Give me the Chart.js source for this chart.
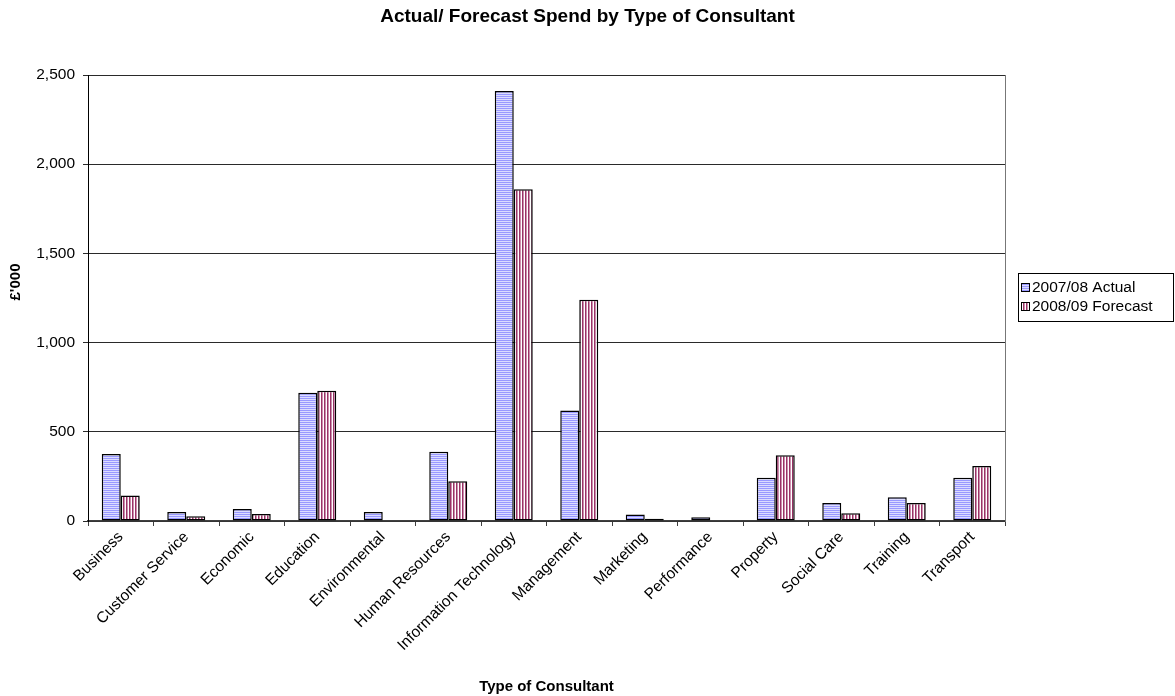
<!DOCTYPE html>
<html><head><meta charset="utf-8">
<script src="https://cdn.jsdelivr.net/npm/chart.js@4/dist/chart.umd.min.js"></script>
<style>html,body{margin:0;padding:0;background:#fff}#wrap{width:1175px;height:696px}</style>
</head><body><div id="wrap"><canvas id="c" width="1175" height="696"></canvas></div>
<script>
const categories = ['Business','Customer Service','Economic','Education','Environmental','Human Resources','Information Technology','Management','Marketing','Performance','Property','Social Care','Training','Transport'];
const actual2007 = [375, 51, 67, 719, 51, 388, 2411, 620, 36, 21, 242, 101, 133, 243];
const forecast2008 = [143, 26, 39, 730, 0, 223, 1860, 1240, 13, 0, 369, 43, 101, 308];
const seriesNames = ['2007/08 Actual', '2008/09 Forecast'];
const yTickValues = [0, 500, 1000, 1500, 2000, 2500];
const chartTitle = 'Actual/ Forecast Spend by Type of Consultant';
const xTitle = 'Type of Consultant';
const yTitle = "£'000";

const FONT = "'Liberation Sans', Arial, sans-serif";

function makePattern(w, h, draw) {
  const c = document.createElement('canvas');
  c.width = w; c.height = h;
  const x = c.getContext('2d');
  draw(x);
  return x.createPattern(c, 'repeat');
}
const actualPattern = makePattern(4, 2, x => {
  x.fillStyle = '#9999ff'; x.fillRect(0, 0, 4, 1);
  x.fillStyle = '#dcdcff'; x.fillRect(0, 1, 4, 1);
});
const forecastPattern = makePattern(3, 4, x => {
  x.fillStyle = '#993366'; x.fillRect(0, 0, 1, 4);
  x.fillStyle = '#cc8fae'; x.fillRect(1, 0, 1, 4);
  x.fillStyle = '#ffffff'; x.fillRect(2, 0, 1, 4);
});
const fills = [actualPattern, forecastPattern];

const extrasPlugin = {
  id: 'extras',
  afterDraw(chart) {
    const ctx = chart.ctx;
    ctx.save();
    ctx.font = "bold 15px " + FONT;
    ctx.fillStyle = '#000';
    ctx.textAlign = 'center';
    ctx.textBaseline = 'middle';
    ctx.translate(16, 282);
    ctx.rotate(-Math.PI / 2);
    ctx.fillText(yTitle, 0, 0);
    ctx.restore();
    ctx.save();
    ctx.strokeStyle = '#000';
    ctx.lineWidth = 1;
    ctx.strokeRect(1018.5, 273.5, 155, 48);
    ctx.font = "15.5px " + FONT;
    ctx.textAlign = 'left';
    ctx.textBaseline = 'middle';
    const rows = [288, 307];
    seriesNames.forEach((n, i) => {
      ctx.fillStyle = fills[i];
      ctx.fillRect(1021.5, rows[i] - 4.5, 8, 8);
      ctx.strokeRect(1021.5, rows[i] - 4.5, 8, 8);
      ctx.fillStyle = '#000';
      ctx.fillText(n, 1032, rows[i]);
    });
    ctx.restore();
  }
};

new Chart(document.getElementById('c'), {
  type: 'bar',
  data: {
    labels: categories,
    datasets: [
      { label: seriesNames[0], data: actual2007, backgroundColor: actualPattern, borderColor: '#000', borderWidth: 1.5, borderSkipped: false },
      { label: seriesNames[1], data: forecast2008, backgroundColor: forecastPattern, borderColor: '#000', borderWidth: 1.5, borderSkipped: false }
    ]
  },
  options: {
    responsive: false,
    animation: false,
    devicePixelRatio: 1,
    datasets: { bar: { barPercentage: 1, categoryPercentage: 0.58 } },
    layout: { padding: { left: 0, right: 0, top: 0, bottom: 0 } },
    plugins: {
      legend: { display: false },
      tooltip: { enabled: false },
      title: {
        display: true, text: chartTitle, color: '#000',
        font: { family: FONT, size: 19, weight: 'bold' },
        padding: { top: 5, bottom: 47.2 }
      }
    },
    scales: {
      x: {
        grid: { display: true, drawOnChartArea: false, offset: true, tickLength: 5, color: '#404040' },
        border: { color: '#404040', width: 1.5 },
        ticks: { color: '#000', font: { family: FONT, size: 15.5 }, minRotation: 45, maxRotation: 45, autoSkip: false, padding: 2 },
        title: { display: true, text: xTitle, color: '#000', font: { family: FONT, size: 15, weight: 'bold' }, padding: { top: 0, bottom: 0 } },
        afterFit: s => { s.height = 175; }
      },
      y: {
        min: 0, max: 2500,
        afterBuildTicks: s => { s.ticks = yTickValues.map(v => ({ value: v })); },
        grid: { color: '#2a2a2a', tickLength: 5 },
        border: { color: '#000', width: 1 },
        ticks: { color: '#000', font: { family: FONT, size: 15.5 }, padding: 8, callback: v => v.toLocaleString('en-US') },
        afterFit: s => { s.width = 88; }
      },
      yRight: {
        position: 'right', display: true, min: 0, max: 2500,
        grid: { display: false, drawTicks: false },
        ticks: { display: false },
        border: { display: true, color: '#777', width: 1 },
        afterFit: s => { s.width = 170; }
      }
    }
  },
  plugins: [extrasPlugin]
});
</script>
</body></html>
